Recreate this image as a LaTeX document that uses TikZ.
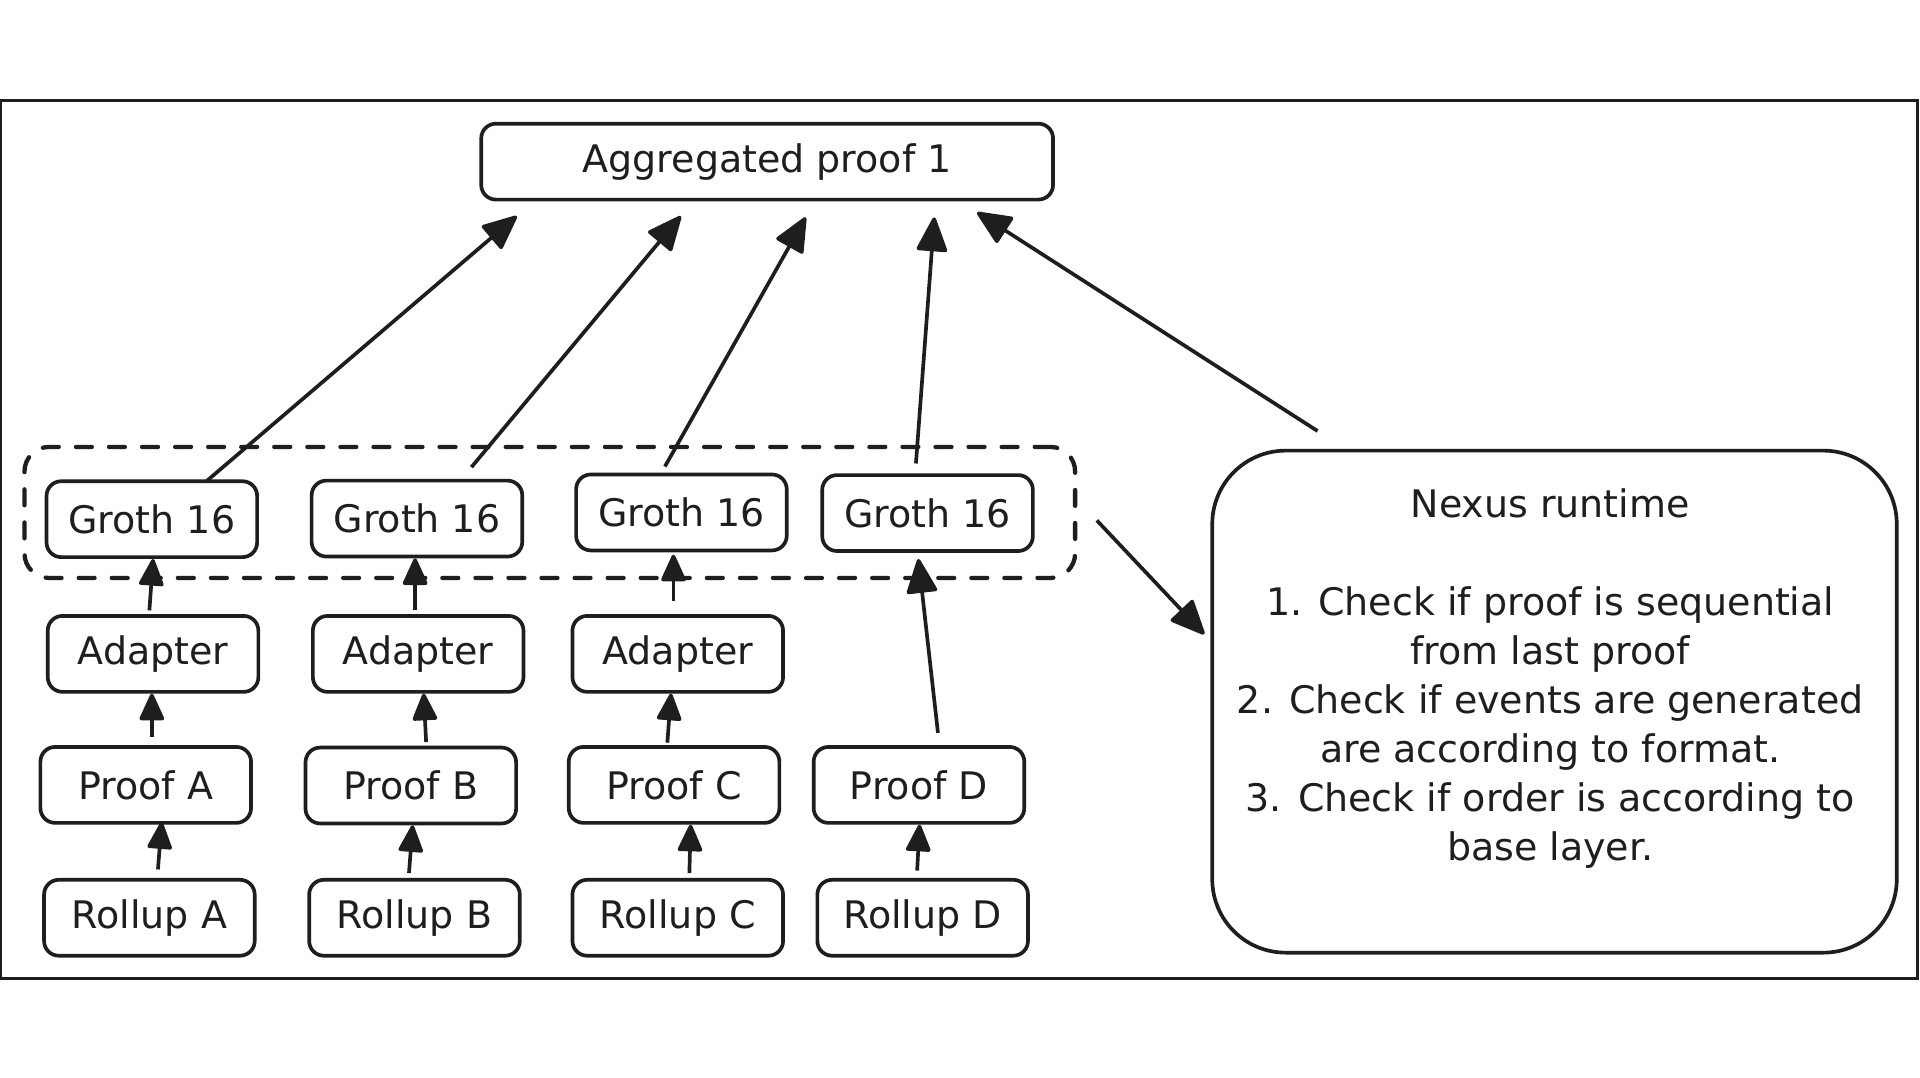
\documentclass[tikz,border=0pt]{standalone}
\usepackage{fontspec}
\setmainfont{DejaVu Sans}
\usetikzlibrary{arrows.meta}
\definecolor{ink}{HTML}{1E1E1E}
\begin{document}
\begin{tikzpicture}[x=1pt,y=-1pt,
  every node/.style={font=\fontsize{31}{40}\selectfont, text=ink},
  boxnode/.style={draw=ink, line width=3pt, rounded corners=12pt, minimum width=172pt, minimum height=62pt, inner sep=0pt},
  arrlong/.style={draw=ink, line width=3pt, -{Triangle[length=30pt,width=26pt,round]}},
  arrshort/.style={draw=ink, line width=3pt, -{Triangle[length=24pt,width=21pt,round]}},
  groupbox/.style={draw=ink, line width=3.5pt, dash pattern=on 13pt off 14pt, line cap=round, rounded corners=20pt, minimum width=858pt, minimum height=107pt, inner sep=0pt}
]
\useasboundingbox (0,0) rectangle (1568,880);
\fill[white] (0,0) rectangle (1568,880);
\draw[ink, line width=2pt] (1,82) rectangle (1566,799);

% top
\node[boxnode, minimum width=467pt] (Agg) at (626.5,132) {Aggregated proof 1};

% group
\node[groupbox] (Grp) at (449,418.5) {};

% Groth row
\node[boxnode] (GA) at (124,424) {Groth 16};
\node[boxnode] (GB) at (340.5,423.5) {Groth 16};
\node[boxnode] (GC) at (556.5,418.5) {Groth 16};
\node[boxnode] (GD) at (757.5,419) {Groth 16};

% Adapter row
\node[boxnode] (AdA) at (125,534) {Adapter};
\node[boxnode] (AdB) at (341.5,534) {Adapter};
\node[boxnode] (AdC) at (553.5,534) {Adapter};

% Proof row
\node[boxnode] (PA) at (119,641) {Proof A};
\node[boxnode] (PB) at (335.5,641.5) {Proof B};
\node[boxnode] (PC) at (550.5,641) {Proof C};
\node[boxnode] (PD) at (750.5,641) {Proof D};

% Rollup row
\node[boxnode] (RA) at (122,749.5) {Rollup A};
\node[boxnode] (RB) at (338.5,749.5) {Rollup B};
\node[boxnode] (RC) at (553.5,749.5) {Rollup C};
\node[boxnode] (RD) at (753.5,749.5) {Rollup D};

% Nexus runtime
\node[draw=ink, line width=3pt, rounded corners=60pt, minimum width=559pt, minimum height=410pt, inner sep=0pt] (Nexus) at (1269.5,573) {};
\node[align=center, inner sep=0pt] (NexusText) at (1266,554) {Nexus runtime\\[40pt]
1. Check if proof is sequential\\
from last proof\\
2. Check if events are generated\\
are according to format.\\
3. Check if order is according to\\
base layer.};

\coordinate (Efree) at (1076,352);

% long arrows to aggregated proof
\draw[arrlong] ([xshift=44pt,yshift=-2pt]GA.north) -- ([xshift=-204.5pt,yshift=-12pt]Agg.south);
\draw[arrlong] ([xshift=44.5pt,yshift=9.5pt]GB.north) -- ([xshift=-70.5pt,yshift=-12pt]Agg.south);
\draw[arrlong] ([xshift=-13.5pt,yshift=5pt]GC.north) -- ([xshift=31.5pt,yshift=-13pt]Agg.south);
\draw[arrlong] ([xshift=-9.5pt,yshift=8pt]GD.north) -- ([xshift=136.5pt,yshift=-13pt]Agg.south);
\draw[arrlong] (Efree) -- ([xshift=171.5pt,yshift=-9pt]Agg.south);
\draw[arrlong] ([xshift=16pt,yshift=-6.5pt]Grp.east) -- ([xshift=-5pt,yshift=55pt]Nexus.west);

% column A
\draw[arrshort] ([xshift=-3pt,yshift=3pt]AdA.north) -- ([xshift=1pt]GA.south);
\draw[arrshort] ([xshift=5pt,yshift=7pt]PA.north) -- ([xshift=-1pt]AdA.south);
\draw[arrshort] ([xshift=7pt,yshift=7pt]RA.north) -- ([xshift=13pt,yshift=2pt]PA.south);
% column B
\draw[arrshort] ([xshift=-2.5pt,yshift=3pt]AdB.north) -- ([xshift=-1.5pt]GB.south);
\draw[arrshort] ([xshift=12.5pt,yshift=3pt]PB.north) -- ([xshift=4.5pt]AdB.south);
\draw[arrshort] ([xshift=-4.5pt,yshift=4pt]RB.north) -- ([xshift=1.5pt]PB.south);
% column C
\draw[arrshort] ([xshift=-3.5pt,yshift=11pt]AdC.north) -- ([xshift=-6.5pt,yshift=-2pt]GC.south);
\draw[arrshort] ([xshift=-5.5pt,yshift=2pt]PC.north) -- ([xshift=-5.5pt]AdC.south);
\draw[arrshort] ([xshift=9.5pt,yshift=4pt]RC.north) -- ([xshift=13.5pt]PC.south);
% column D
\draw[arrlong] ([xshift=15.5pt,yshift=10pt]PD.north) -- ([xshift=-7.5pt,yshift=-5pt]GD.south);
\draw[arrshort] ([xshift=-4.5pt,yshift=6pt]RD.north) -- ([xshift=0.5pt]PD.south);
\end{tikzpicture}
\end{document}
